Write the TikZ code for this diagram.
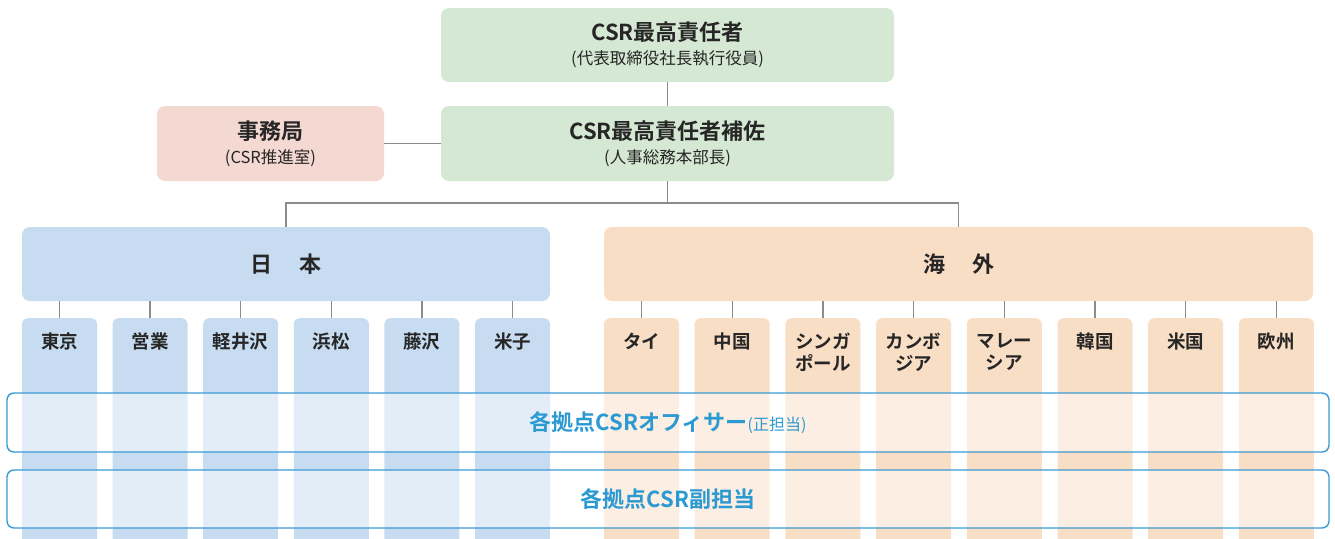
\documentclass[tikz,border=0pt]{standalone}
\usepackage{fontspec}
\setmainfont{Noto Sans CJK JP}[BoldFont={Noto Sans CJK JP Bold}]
\usepackage{tikz}
\usetikzlibrary{positioning}

\definecolor{boardgreen}{HTML}{D4E8D3}
\definecolor{officepink}{HTML}{F4D8D2}
\definecolor{japanblue}{HTML}{C7DCF0}
\definecolor{abroadpeach}{HTML}{F9DEC6}
\definecolor{bandblue}{HTML}{3A9AD4}
\definecolor{bandtext}{HTML}{2B9AD2}
\definecolor{linkgray}{HTML}{8C8C8C}
\definecolor{labelblack}{HTML}{262626}

\newcommand\titlesize{\fontsize{22}{26}\selectfont\bfseries}
\newcommand\subsize{\fontsize{16.5}{20}\selectfont}
\newcommand\colsize{\fontsize{18.5}{22}\selectfont\bfseries}

\begin{document}
\begin{tikzpicture}[x=1pt, y=-1pt,
    box/.style={rounded corners=8pt, inner sep=0pt, align=center, text=labelblack},
    column/.style={rounded corners=6pt, inner sep=0pt, minimum width=75pt,
        minimum height=250pt, anchor=north},
    colname/.style={inner sep=0pt, align=center, text=labelblack, font=\colsize,
        anchor=north},
    band/.style={draw=bandblue, line width=1.4pt, rounded corners=7pt, fill=white,
        fill opacity=0.5, text opacity=1, text=bandtext, minimum width=1322pt,
        font=\titlesize},
    link/.style={draw=linkgray, line width=1.4pt}]
    \useasboundingbox (0,0) rectangle (1335,538);
    \clip (0,0) rectangle (1335,538);
    % Top management
    \node[box, fill=boardgreen, minimum width=453pt, minimum height=74pt]
        (Chief) at (667.5,45) {{\titlesize CSR最高責任者}\\[7pt]{\subsize (代表取締役社長執行役員)}};
    \node[box, fill=boardgreen, minimum width=453pt, minimum height=75pt]
        (Deputy) at (667.5,143.5) {{\titlesize CSR最高責任者補佐}\\[7pt]{\subsize (人事総務本部長)}};
    \node[box, fill=officepink, minimum width=227pt, minimum height=75pt]
        (Office) at (270.5,143.5) {{\titlesize 事務局}\\[7pt]{\subsize (CSR推進室)}};
    % Regions
    \node[box, fill=japanblue, minimum width=528pt, minimum height=74pt]
        (Japan) at (286,264) {\titlesize 日\hspace{27pt}本};
    \node[box, fill=abroadpeach, minimum width=709pt, minimum height=74pt]
        (Abroad) at (958.5,264) {\titlesize 海\hspace{27pt}外};
    \coordinate (Split) at (667.5,203);
    % Sites
    \foreach \name/\i in {東京/1,営業/2,軽井沢/3,浜松/4,藤沢/5,米子/6} {
        \node[column, fill=japanblue] (Jp-\i) at (59.5+90.6*\i-90.6,318) {};
        \node[colname, below=15pt of Jp-\i.north] (JpName-\i) {\name};
        \draw[link] (Japan.south -| Jp-\i.north) -- (Jp-\i.north);
    }
    \foreach \name/\i in {タイ/1,中国/2,{シンガ\\ポール}/3,{カンボ\\ジア}/4,
                          {マレー\\シア}/5,韓国/6,米国/7,欧州/8} {
        \node[column, fill=abroadpeach] (Ab-\i) at (641.5+90.7*\i-90.7,318) {};
        \node[colname, below=15pt of Ab-\i.north] (AbName-\i) {\name};
        \draw[link] (Abroad.south -| Ab-\i.north) -- (Ab-\i.north);
    }
    % Officer bands
    \node[band, minimum height=59pt] (Officer) at (668,422.5)
        {各拠点CSRオフィサー{\fontsize{16}{18}\selectfont\mdseries (正担当)}};
    \node[band, minimum height=58pt] (Assistant) at (668,499) {各拠点CSR副担当};
    % Lines
    \draw[link] (Chief) -- (Deputy);
    \draw[link] (Office) -- (Deputy);
    \draw[link] (Deputy) -- (Split);
    \draw[link] (Japan.north) |- (Split) -| (Abroad.north);
\end{tikzpicture}
\end{document}
